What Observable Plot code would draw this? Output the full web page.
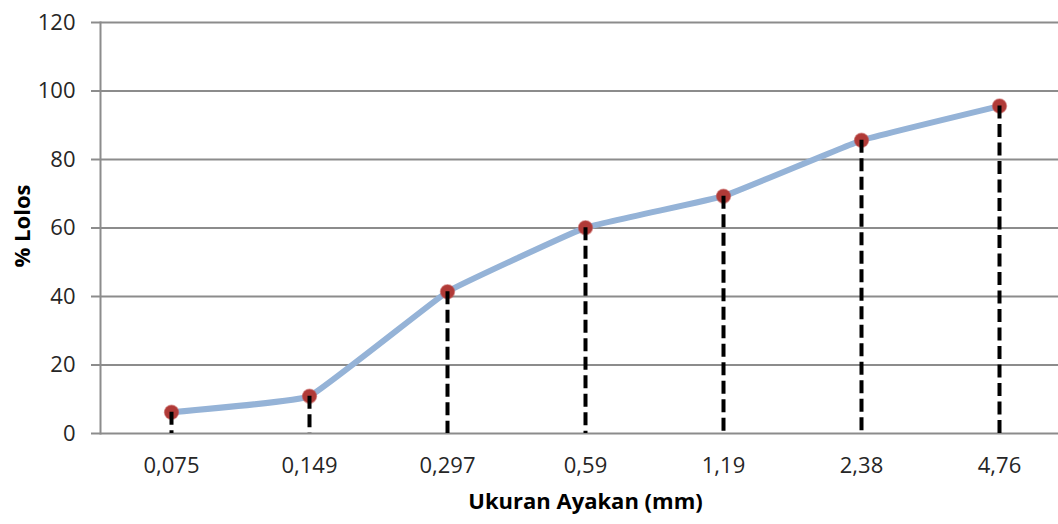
<!DOCTYPE html>
<html>
<head>
<meta charset="utf-8">
<script src="https://cdn.jsdelivr.net/npm/d3@7"></script>
<script src="https://cdn.jsdelivr.net/npm/@observablehq/plot@0.6"></script>
<style>
  html, body { margin: 0; padding: 0; background: #fff; }
  #chart svg { display: block; }
</style>
</head>
<body>
<div id="chart"></div>
<script>
const sieveSizes = ["0,075", "0,149", "0,297", "0,59", "1,19", "2,38", "4,76"];
const passing = [6.2, 10.9, 41.4, 60.1, 69.3, 85.6, 95.6];
const yTicks = [0, 20, 40, 60, 80, 100, 120];
const xTitle = "Ukuran Ayakan (mm)";
const yTitle = "% Lolos";

const data = sieveSizes.map((s, i) => ({size: s, value: passing[i]}));
const font = "'Open Sans', 'Noto Sans', sans-serif";
const gridColor = "#8c8c8c";

const chart = Plot.plot({
  width: 1058,
  height: 524,
  marginTop: 22,
  marginBottom: 91,
  marginLeft: 100,
  marginRight: 0,
  style: {fontFamily: font, fontSize: "22px", color: "#333", background: "#fff"},
  x: {type: "point", domain: sieveSizes, range: [169, 1000], padding: 0, label: null},
  y: {domain: [0, 120], label: null},
  marks: [
    Plot.ruleY(yTicks, {stroke: gridColor, strokeWidth: 2}),
    Plot.frame({anchor: "left", stroke: gridColor, strokeWidth: 2}),
    Plot.axisY({ticks: yTicks, tickSize: 9, tickPadding: 16, stroke: gridColor, strokeWidth: 2, strokeOpacity: 1, fill: "#262626", fontSize: 22, label: null}),
    Plot.axisX({tickSize: 0, tickPadding: 24, fill: "#262626", fontSize: 22, label: null}),
    Plot.line(data, {x: "size", y: "value", stroke: "#95b3d7", strokeWidth: 6, curve: "cardinal", tension: 0.75}),
    Plot.dot(data, {x: "size", y: "value", r: 7, fill: "#b03a37", stroke: "#c0504d", strokeOpacity: 0.5, strokeWidth: 1.5}),
    Plot.ruleX(data, {x: "size", y1: "value", y2: 0, stroke: "#000", strokeWidth: 4, strokeDasharray: "13,5.5"}),
    Plot.text([xTitle], {text: d => d, frameAnchor: "bottom", dx: 6, dy: 75, fontWeight: "bold", fontSize: 22, fill: "#000"}),
    Plot.text([yTitle], {text: d => d, frameAnchor: "left", textAnchor: "middle", dx: -78, dy: -2, rotate: -90, fontWeight: "bold", fontSize: 22, fill: "#000"})
  ]
});
document.getElementById("chart").appendChild(chart);
</script>
</body>
</html>
